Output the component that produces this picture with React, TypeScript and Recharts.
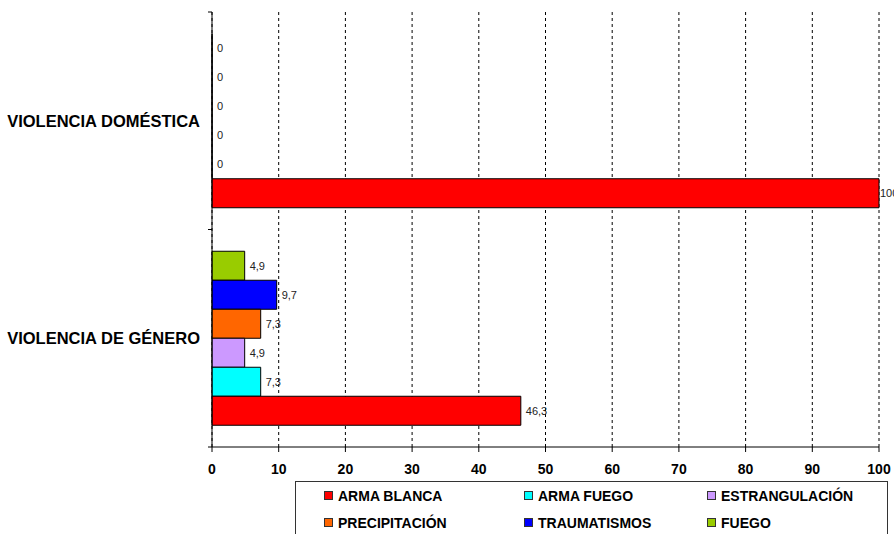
import React from 'react';
import { BarChart, Bar, XAxis, YAxis, CartesianGrid, LabelList } from 'recharts';

const categories = ['VIOLENCIA DOMÉSTICA', 'VIOLENCIA DE GÉNERO'];
const seriesNames = ['ARMA BLANCA', 'ARMA FUEGO', 'ESTRANGULACIÓN', 'PRECIPITACIÓN', 'TRAUMATISMOS', 'FUEGO'];
const seriesColors = ['#FF0000', '#00FFFF', '#CC99FF', '#FF6600', '#0000FF', '#99CC00'];
const armaBlanca = [100, 46.3];
const armaFuego = [0, 7.3];
const estrangulacion = [0, 4.9];
const precipitacion = [0, 7.3];
const traumatismos = [0, 9.7];
const fuego = [0, 4.9];
const xTicks = [0, 10, 20, 30, 40, 50, 60, 70, 80, 90, 100];

const seriesValues = [armaBlanca, armaFuego, estrangulacion, precipitacion, traumatismos, fuego];
const data = categories.map((name, i) => {
  const row: any = { name };
  seriesValues.forEach((vals, s) => {
    row['s' + s] = vals[i];
  });
  return row;
});

const FONT = "Arial, 'Liberation Sans', sans-serif";
const TICK_SIZE = 4;
const TICK_MARGIN = 8;

const YTick = (props: any) => {
  const { x, y, payload } = props;
  const axisX = x + TICK_SIZE + TICK_MARGIN;
  const off = payload && typeof payload.offset === 'number' ? payload.offset : 0;
  return (
    <g>
      <text
        x={x}
        y={y}
        textAnchor="end"
        dominantBaseline="central"
        fontFamily={FONT}
        fontWeight="bold"
        fontSize={16.5}
        fill="#000"
      >
        {payload.value}
      </text>
      <line x1={axisX - TICK_SIZE} x2={axisX} y1={y - off} y2={y - off} stroke="#000" />
      <line x1={axisX - TICK_SIZE} x2={axisX} y1={y + off} y2={y + off} stroke="#000" />
    </g>
  );
};

const fmt = (v: any) => String(v).replace('.', ',');

const ValueLabel = (props: any) => {
  const { x, y, width, height, value } = props;
  const gap = value >= 100 ? 1 : 5;
  return (
    <text
      x={Number(x) + Number(width) + gap}
      y={Number(y) + Number(height) / 2}
      dominantBaseline="central"
      fill="#222"
      fontSize={11}
      fontFamily={FONT}
    >
      {fmt(value)}
    </text>
  );
};

const order = [5, 4, 3, 2, 1, 0];

export default function App() {
  return (
    <div style={{ position: 'absolute', left: 0, top: 0, width: 894, height: 534, overflow: 'hidden', background: '#fff', fontFamily: FONT }}>
      <BarChart
        width={894}
        height={534}
        data={data}
        layout="vertical"
        margin={{ top: 12, right: 15, left: 0, bottom: 47 }}
        barCategoryGap="10%"
        barGap={0}
      >
        <CartesianGrid horizontal={false} vertical={true} stroke="#000" strokeDasharray="3 3" />
        <XAxis
          type="number"
          domain={[0, 100]}
          ticks={xTicks}
          interval={0}
          height={40}
          tickSize={5}
          tickMargin={12}
          axisLine={{ stroke: '#000' }}
          tickLine={{ stroke: '#000' }}
          tick={{ fill: '#000', fontSize: 14, fontWeight: 'bold', fontFamily: FONT }}
        />
        <YAxis
          type="category"
          dataKey="name"
          width={212}
          tickSize={TICK_SIZE}
          tickMargin={TICK_MARGIN}
          tickLine={false}
          axisLine={{ stroke: '#000' }}
          tick={<YTick />}
          interval={0}
        />
        {order.map((s) => (
          <Bar
            key={s}
            dataKey={'s' + s}
            name={seriesNames[s]}
            fill={seriesColors[s]}
            stroke="#000"
            strokeWidth={1}
            minPointSize={0.1}
            isAnimationActive={false}
          >
            <LabelList dataKey={'s' + s} content={<ValueLabel />} />
          </Bar>
        ))}
      </BarChart>
      <div
        style={{
          position: 'absolute',
          left: 295,
          top: 481,
          width: 593,
          height: 60,
          border: '1px solid #333',
          boxSizing: 'border-box',
          display: 'grid',
          gridTemplateColumns: '200px 183px 1fr',
          gridAutoRows: '27px',
          paddingLeft: 28,
        }}
      >
        {seriesNames.map((n, i) => (
          <div key={n} style={{ display: 'flex', alignItems: 'center', whiteSpace: 'nowrap' }}>
            <span
              style={{
                display: 'inline-block',
                width: 7,
                height: 7,
                background: seriesColors[i],
                border: '1px solid #333',
                marginRight: 5,
              }}
            />
            <span style={{ fontSize: 14, fontWeight: 'bold', color: '#000' }}>{n}</span>
          </div>
        ))}
      </div>
    </div>
  );
}
